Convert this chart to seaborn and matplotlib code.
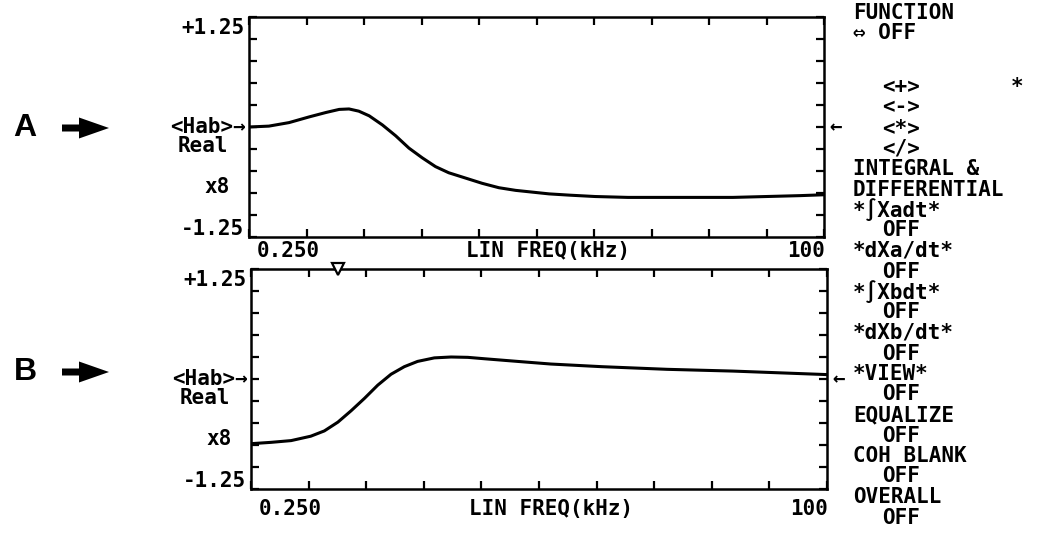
import numpy as np
import pandas as pd
import seaborn as sns
import matplotlib.pyplot as plt
from matplotlib.patches import FancyArrow


# Data
FREQ_A = [0.25, 3.7, 7.2, 10.7, 13.6, 15.9, 17.6, 19.3, 21.1, 23.4, 25.7, 28.0,
          30.3, 32.6, 34.9, 37.8, 40.7, 43.6, 46.5, 49.4, 52.3, 56.0, 60.3,
          66.0, 72.8, 84.2, 95.8, 100.0]
REAL_A = [0.00, 0.01, 0.05, 0.115, 0.165, 0.20, 0.205, 0.18, 0.127, 0.023, -0.10, -0.24,
          -0.35, -0.45, -0.52, -0.58, -0.64, -0.69, -0.72, -0.74, -0.76, -0.775, -0.79,
          -0.80, -0.80, -0.80, -0.78, -0.77]

FREQ_B = [0.25, 3.7, 7.2, 10.6, 12.95, 15.3, 17.6, 19.9, 22.2, 24.5, 26.8, 29.1,
          32.0, 34.9, 37.8, 40.7, 46.4, 52.2, 61.0, 72.3, 83.7, 100.0]
REAL_B = [-0.735, -0.72, -0.70, -0.65, -0.59, -0.49, -0.36, -0.22, -0.07, 0.054, 0.14, 0.20,
          0.24, 0.25, 0.246, 0.23, 0.20, 0.17, 0.14, 0.11, 0.09, 0.05]

MARKER_FREQ = 15.3

X_MIN, X_MAX = 0.25, 100.0
Y_MIN, Y_MAX = -1.25, 1.25
X_LEFT_LABEL = "0.250"
X_RIGHT_LABEL = "100"
X_TITLE = "LIN FREQ(kHz)"
Y_TOP_LABEL = "+1.25"
Y_BOTTOM_LABEL = "-1.25"
CHANNEL_LABELS = ["<Hab>→", "Real", "x8"]
PANEL_NAMES = ["A", "B"]

MENU_TEXT = ["FUNCTION", "⇔ OFF", "<+>", "<->", "<*>", "</>", "INTEGRAL &",
             "DIFFERENTIAL", "*∫Xadt*", "OFF", "*dXa/dt*", "OFF", "*∫Xbdt*", "OFF",
             "*dXb/dt*", "OFF", "*VIEW*", "OFF", "EQUALIZE", "OFF", "COH BLANK", "OFF",
             "OVERALL", "OFF"]
MENU_INDENT = [0, 0, 1, 1, 1, 1, 0, 0, 0, 1, 0, 1, 0, 1, 0, 1, 0, 1, 0, 1, 0, 1, 0, 1]

sns.set_style("white")
plt.rcParams['font.family'] = ['DejaVu Sans Mono', 'DejaVu Sans']
plt.rcParams['font.weight'] = 'bold'
FS = 15

fig = plt.figure(figsize=(10.41, 5.4), dpi=100)
W, H = 1041, 540

# overlay in pixel coordinates for the free-standing annotations
ov = fig.add_axes([0, 0, 1, 1])
ov.set_xlim(0, W)
ov.set_ylim(H, 0)
ov.axis('off')

ax_a = fig.add_axes([249 / W, 1 - 237 / H, 575 / W, 220 / H])
ax_b = fig.add_axes([251 / W, 1 - 489 / H, 576 / W, 220 / H])


def draw_panel(ax, freq, real, xlabel_gap):
    df = pd.DataFrame({'freq': freq, 'real': real})
    sns.lineplot(data=df, x='freq', y='real', ax=ax, color='black', lw=2.2)
    ax.set_xlim(X_MIN, X_MAX)
    ax.set_ylim(Y_MIN, Y_MAX)
    ax.set_xticks(np.linspace(X_MIN, X_MAX, 11))
    ax.set_yticks(np.linspace(Y_MIN, Y_MAX, 11))
    ax.tick_params(direction='in', length=6, width=1.6, color='black',
                   top=True, bottom=True, left=True, right=True,
                   labelbottom=False, labelleft=False)
    ax.set_xlabel('')
    ax.set_ylabel('')
    for s in ax.spines.values():
        s.set_linewidth(1.8)
        s.set_color('black')
        s.set_visible(True)

    ytr = ax.get_yaxis_transform()
    xtr = ax.get_xaxis_transform()
    kw = dict(textcoords='offset pixels', fontsize=FS, fontweight='bold', color='black')
    ax.annotate(Y_TOP_LABEL, xy=(0, Y_MAX), xycoords=ytr, xytext=(-5, -1), ha='right', va='top', **kw)
    ax.annotate(Y_BOTTOM_LABEL, xy=(0, Y_MIN), xycoords=ytr, xytext=(-5, 2), ha='right', va='baseline', **kw)
    ax.annotate(CHANNEL_LABELS[0], xy=(0, 0), xycoords=ytr, xytext=(-3, 0), ha='right', va='center', **kw)
    ax.annotate(CHANNEL_LABELS[1], xy=(0, 0), xycoords=ytr, xytext=(-21, -19), ha='right', va='center', **kw)
    ax.annotate(CHANNEL_LABELS[2], xy=(0, 0), xycoords=ytr, xytext=(-19, -60), ha='right', va='center', **kw)
    ax.annotate("←", xy=(1, 0), xycoords=ytr, xytext=(5, 0), ha='left', va='center', **kw)

    ax.annotate(X_LEFT_LABEL, xy=(X_MIN, 0), xycoords=xtr, xytext=(8, -xlabel_gap), ha='left', va='center', **kw)
    ax.annotate(X_TITLE, xy=(0.5, 0), xycoords='axes fraction', xytext=(12, -xlabel_gap), ha='center', va='center', **kw)
    ax.annotate(X_RIGHT_LABEL, xy=(X_MAX, 0), xycoords=xtr, xytext=(1, -xlabel_gap), ha='right', va='center', **kw)


draw_panel(ax_a, FREQ_A, REAL_A, 14)
draw_panel(ax_b, FREQ_B, REAL_B, 20)

# marker on the lower trace's top edge
ax_b.plot([MARKER_FREQ], [Y_MAX], marker='v', ms=9, mfc='white', mec='black', mew=1.6,
          clip_on=False, zorder=5)

# big A / B pointers on the left
for name, yc in zip(PANEL_NAMES, [128, 372]):
    ov.text(25, yc, name, fontsize=23, fontweight='bold', family='Liberation Sans',
            ha='center', va='center', color='black')
    ov.add_patch(FancyArrow(62, yc, 47, 0, width=7, head_width=21, head_length=30,
                            length_includes_head=True, color='black', lw=0))

# soft-key menu on the right
menu_y = [13, 33] + [87 + 20.5 * k for k in range(len(MENU_TEXT) - 2)]
for txt, ind, yy in zip(MENU_TEXT, MENU_INDENT, menu_y):
    ov.text(853 + 29 * ind, yy, txt, fontsize=FS, fontweight='bold',
            ha='left', va='center', color='black')
ov.text(1017, 87, "*", fontsize=FS, fontweight='bold', ha='center', va='center', color='black')

fig.savefig('out.png', dpi=100, facecolor='white')
